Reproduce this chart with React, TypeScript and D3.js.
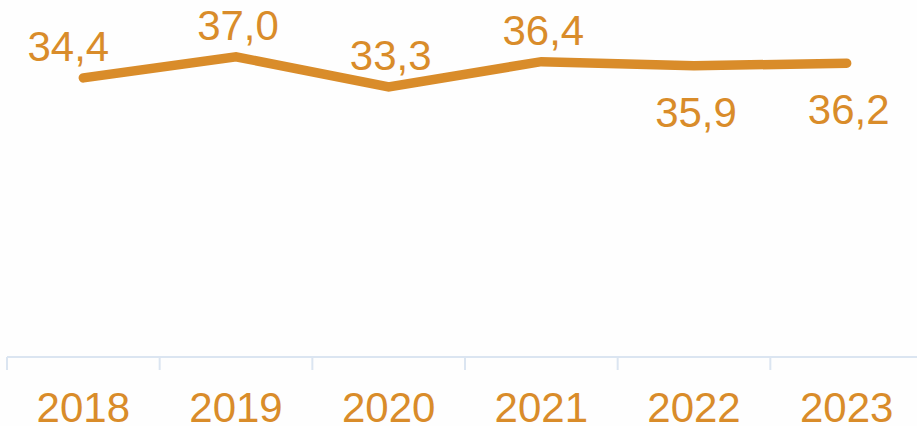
import React, { useEffect, useRef } from "react";
import * as d3 from "d3";

const years = ["2018", "2019", "2020", "2021", "2022", "2023"];
const values = [34.4, 37.0, 33.3, 36.4, 35.9, 36.2];
const labels = ["34,4", "37,0", "33,3", "36,4", "35,9", "36,2"];
// where each value label sits relative to its point
const labelSide = ["above", "above", "above", "above", "below", "below"];

const W = 917;
const H = 426;
const ORANGE = "#d98c2a";
const AXIS = "#dbe5f1";
const FONT = "'Liberation Sans', Arial, sans-serif";

export default function App() {
  const ref = useRef<SVGSVGElement | null>(null);

  useEffect(() => {
    const svg = d3.select(ref.current);
    svg.selectAll("*").remove();

    const x = d3.scaleBand().domain(years).range([7, 923]).padding(0);
    const y = d3.scaleLinear().domain([0, 44]).range([357, 0]);
    const cx = (d: string) => (x(d) as number) + x.bandwidth() / 2;

    svg.append("rect").attr("width", W).attr("height", H).attr("fill", "#fefefe");

    // x axis line + ticks at band edges
    const axis = svg.append("g");
    axis.append("line")
      .attr("x1", 7).attr("x2", W)
      .attr("y1", y(0)).attr("y2", y(0))
      .attr("stroke", AXIS).attr("stroke-width", 2);
    axis.selectAll("line.tick")
      .data(years)
      .enter().append("line")
      .attr("class", "tick")
      .attr("x1", d => x(d) as number).attr("x2", d => x(d) as number)
      .attr("y1", y(0)).attr("y2", y(0) + 13)
      .attr("stroke", AXIS).attr("stroke-width", 2);
    axis.selectAll("text")
      .data(years)
      .enter().append("text")
      .attr("x", d => cx(d))
      .attr("y", 422)
      .attr("text-anchor", "middle")
      .attr("font-family", FONT)
      .attr("font-size", 42)
      .attr("fill", ORANGE)
      .text(d => d);

    const line = d3.line<number>()
      .x((_, i) => cx(years[i]))
      .y(d => y(d));

    svg.append("path")
      .datum(values)
      .attr("fill", "none")
      .attr("stroke", ORANGE)
      .attr("stroke-width", 9.5)
      .attr("stroke-linecap", "round")
      .attr("stroke-linejoin", "miter")
      .attr("d", line);

    svg.selectAll("text.val")
      .data(values)
      .enter().append("text")
      .attr("class", "val")
      .attr("x", (_, i) => cx(years[i]) + (i === 0 ? -15 : 2))
      .attr("y", (d, i) => (labelSide[i] === "above" ? y(d) - 17 : y(d) + 61))
      .attr("text-anchor", "middle")
      .attr("font-family", FONT)
      .attr("font-size", 42)
      .attr("fill", ORANGE)
      .text((_, i) => labels[i]);
  }, []);

  return (
    <svg
      ref={ref}
      width={W}
      height={H}
      style={{ position: "absolute", left: 0, top: 0, display: "block" }}
    />
  );
}
